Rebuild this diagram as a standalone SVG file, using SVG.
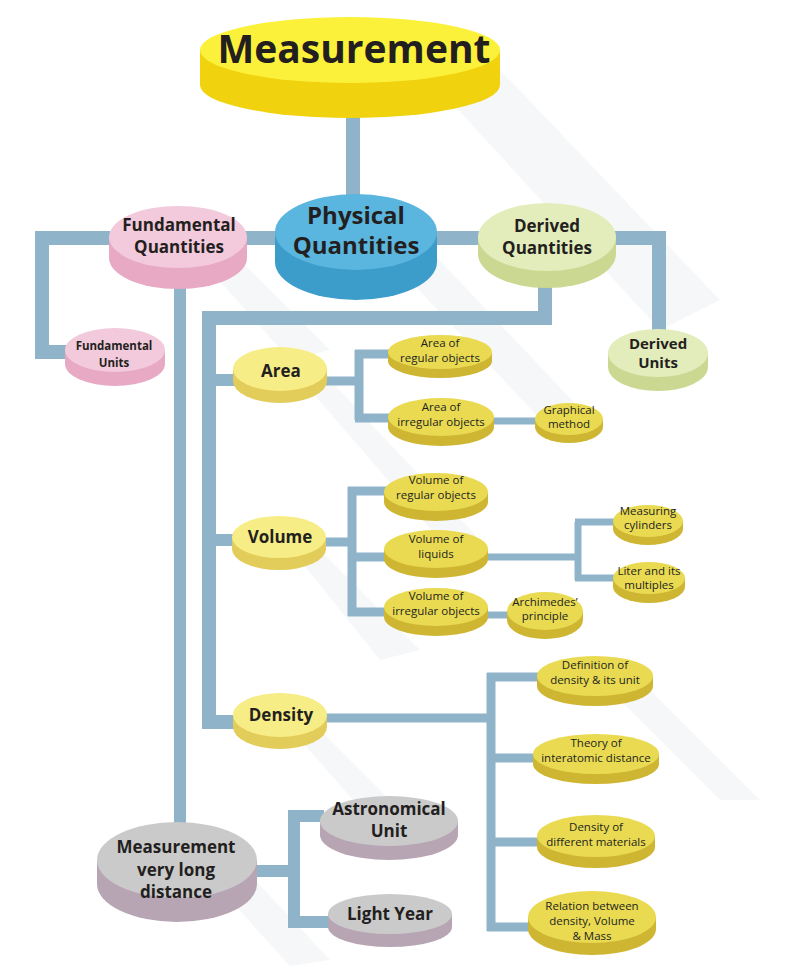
<svg xmlns="http://www.w3.org/2000/svg" width="804" height="966" viewBox="0 0 804 966">
<style>
.c{fill:none;stroke:#8fb4c9;stroke-linecap:butt;stroke-linejoin:miter}
.w14{stroke-width:14}.w12{stroke-width:12}.w9{stroke-width:9}.w7{stroke-width:7}
.sh{fill:#eef1f3;opacity:0.55}
text{font-family:"Open Sans","Liberation Sans",sans-serif;fill:#231f20;text-anchor:middle}
.b{font-weight:700}
.n{font-weight:400;font-size:11.5px}
.ytop{fill:#fbf13a}.yside{fill:#f0d30e}
.btop{fill:#5ab6df}.bside{fill:#3c9dcb}
.ptop{fill:#f2cadb}.pside{fill:#e7a9c4}
.gtop{fill:#e3ecbb}.gside{fill:#cbd891}
.ltop{fill:#f7ed86}.lside{fill:#e2cc5a}
.mtop{fill:#e9da52}.mside{fill:#cfb632}
.stop{fill:#cacaca}.sside{fill:#b8a5b3}
</style>
<rect width="804" height="966" fill="#ffffff"/>
<g id="shadows">
<polygon class="sh" points="440,90 500,70 720,300 660,330"/>
<polygon class="sh" points="400,270 430,250 600,430 560,440"/>
<polygon class="sh" points="210,270 240,260 330,350 290,360"/>
<polygon class="sh" points="310,390 330,380 480,540 440,540"/>
<polygon class="sh" points="300,560 320,550 420,650 380,660"/>
<polygon class="sh" points="300,740 320,730 420,830 380,830"/>
<polygon class="sh" points="230,900 255,880 330,960 290,966"/>
<polygon class="sh" points="620,700 650,690 760,800 720,800"/>
</g>
<g id="connectors">
<path class="c w14" d="M353,115 V200"/>
<path class="c w14" d="M42,238 H110 M42,231 V352 H70"/>
<path class="c w14" d="M245,238 H280 M434,238 H480 M612,238 H659 V330"/>
<path class="c w14" d="M545,285 V318 H209 V722 H240"/>
<path class="c w12" d="M209,380 H240 M209,540 H240"/>
<path class="c w12" d="M180,288 V830"/>
<path class="c w9" d="M326,381 H359 M359,350 V420 M355,354 H392 M355,418 H392"/>
<path class="c w7" d="M493,421 H540"/>
<path class="c w9" d="M322,542 H352 M352,487 V616 M348,491 H388 M348,557 H388 M348,612 H388"/>
<path class="c w7" d="M483,557 H578 M578,522 V580 M575,522 H616 M575,578 H616"/>
<path class="c w7" d="M483,615 H510"/>
<path class="c w9" d="M326,718 H491 M491,673 V931 M487,677 H540 M487,758 H536 M487,842 H540 M487,927 H530"/>
<path class="c w12" d="M256,871 H294 M294,812 V928 M288,816 H324 M288,922 H332"/>
</g>
<g id="n-measurement">
<path class="yside" d="M200,50 V85 A150,33 0 0 0 500,85 V50 Z"/>
<ellipse class="ytop" cx="350" cy="50" rx="150" ry="33"/>
<text class="b" x="354" y="63" font-size="39">Measurement</text>
</g>
<g id="n-physical">
<path class="bside" d="M275,232 V262 A81,38 0 0 0 437,262 V232 Z"/>
<ellipse class="btop" cx="356" cy="232" rx="81" ry="38"/>
<text class="b" x="356" y="224" font-size="24">Physical</text>
<text class="b" x="356" y="254" font-size="24">Quantities</text>
</g>
<g id="n-fundamental-q">
<path class="pside" d="M109,237 V258 A69,31 0 0 0 247,258 V237 Z"/>
<ellipse class="ptop" cx="178" cy="237" rx="69" ry="31"/>
<text class="b" x="179" y="231" font-size="17">Fundamental</text>
<text class="b" x="179" y="253" font-size="17">Quantities</text>
</g>
<g id="n-derived-q">
<path class="gside" d="M478,237 V254 A69,34 0 0 0 616,254 V237 Z"/>
<ellipse class="gtop" cx="547" cy="237" rx="69" ry="34"/>
<text class="b" x="547" y="232" font-size="17">Derived</text>
<text class="b" x="547" y="254" font-size="17">Quantities</text>
</g>
<g id="n-fundamental-u">
<path class="pside" d="M65,350 V364 A50,22 0 0 0 165,364 V350 Z"/>
<ellipse class="ptop" cx="115" cy="350" rx="50" ry="22"/>
<text class="b" x="114" y="350" font-size="11.5">Fundamental</text>
<text class="b" x="114" y="367" font-size="11.5">Units</text>
</g>
<g id="n-derived-u">
<path class="gside" d="M608,353 V367 A50,24 0 0 0 708,367 V353 Z"/>
<ellipse class="gtop" cx="658" cy="353" rx="50" ry="24"/>
<text class="b" x="658" y="349" font-size="15">Derived</text>
<text class="b" x="658" y="368" font-size="15">Units</text>
</g>
<g id="n-area">
<path class="lside" d="M233,369 V381 A47,22 0 0 0 327,381 V369 Z"/>
<ellipse class="ltop" cx="280" cy="369" rx="47" ry="22"/>
<text class="b" x="281" y="377" font-size="17">Area</text>
</g>
<g id="n-area-reg">
<path class="mside" d="M388,352 V361 A52,17 0 0 0 492,361 V352 Z"/>
<ellipse class="mtop" cx="440" cy="352" rx="52" ry="17"/>
<text class="n" x="440" y="347">Area of</text>
<text class="n" x="440" y="362">regular objects</text>
</g>
<g id="n-area-irr">
<path class="mside" d="M388,417 V427 A53,19 0 0 0 494,427 V417 Z"/>
<ellipse class="mtop" cx="441" cy="417" rx="53" ry="19"/>
<text class="n" x="441" y="411">Area of</text>
<text class="n" x="441" y="426">irregular objects</text>
</g>
<g id="n-graphical">
<path class="mside" d="M535,419 V427 A34,16 0 0 0 603,427 V419 Z"/>
<ellipse class="mtop" cx="569" cy="419" rx="34" ry="16"/>
<text class="n" x="569" y="414" font-size="10.5">Graphical</text>
<text class="n" x="569" y="428" font-size="10.5">method</text>
</g>
<g id="n-volume">
<path class="lside" d="M232,537 V549 A47,21 0 0 0 326,549 V537 Z"/>
<ellipse class="ltop" cx="279" cy="537" rx="47" ry="21"/>
<text class="b" x="280" y="543" font-size="17">Volume</text>
</g>
<g id="n-vol-reg">
<path class="mside" d="M384,492 V502 A52,19 0 0 0 488,502 V492 Z"/>
<ellipse class="mtop" cx="436" cy="492" rx="52" ry="19"/>
<text class="n" x="436" y="484">Volume of</text>
<text class="n" x="436" y="499">regular objects</text>
</g>
<g id="n-vol-liq">
<path class="mside" d="M384,549 V559 A52,19 0 0 0 488,559 V549 Z"/>
<ellipse class="mtop" cx="436" cy="549" rx="52" ry="19"/>
<text class="n" x="436" y="543">Volume of</text>
<text class="n" x="436" y="558">liquids</text>
</g>
<g id="n-vol-irr">
<path class="mside" d="M384,607 V617 A52,19 0 0 0 488,617 V607 Z"/>
<ellipse class="mtop" cx="436" cy="607" rx="52" ry="19"/>
<text class="n" x="436" y="600">Volume of</text>
<text class="n" x="436" y="615">irregular objects</text>
</g>
<g id="n-measuring">
<path class="mside" d="M613,521 V529 A35,16 0 0 0 683,529 V521 Z"/>
<ellipse class="mtop" cx="648" cy="521" rx="35" ry="16"/>
<text class="n" x="648" y="515" font-size="10">Measuring</text>
<text class="n" x="648" y="529" font-size="10">cylinders</text>
</g>
<g id="n-liter">
<path class="mside" d="M613,578 V587 A36,16 0 0 0 685,587 V578 Z"/>
<ellipse class="mtop" cx="649" cy="578" rx="36" ry="16"/>
<text class="n" x="649" y="575" font-size="10.5">Liter and its</text>
<text class="n" x="649" y="589" font-size="10.5">multiples</text>
</g>
<g id="n-archimedes">
<path class="mside" d="M507,611 V620 A38,19 0 0 0 583,620 V611 Z"/>
<ellipse class="mtop" cx="545" cy="611" rx="38" ry="19"/>
<text class="n" x="545" y="606" font-size="10.5">Archimedes’</text>
<text class="n" x="545" y="620" font-size="10.5">principle</text>
</g>
<g id="n-density">
<path class="lside" d="M233,715 V727 A47,22 0 0 0 327,727 V715 Z"/>
<ellipse class="ltop" cx="280" cy="715" rx="47" ry="22"/>
<text class="b" x="281" y="721" font-size="17">Density</text>
</g>
<g id="n-def-density">
<path class="mside" d="M537,676 V686 A58,20 0 0 0 653,686 V676 Z"/>
<ellipse class="mtop" cx="595" cy="676" rx="58" ry="20"/>
<text class="n" x="595" y="669">Definition of</text>
<text class="n" x="595" y="684">density &amp; its unit</text>
</g>
<g id="n-theory">
<path class="mside" d="M533,754 V764 A63,20 0 0 0 659,764 V754 Z"/>
<ellipse class="mtop" cx="596" cy="754" rx="63" ry="20"/>
<text class="n" x="596" y="747">Theory of</text>
<text class="n" x="596" y="762">interatomic distance</text>
</g>
<g id="n-dens-mat">
<path class="mside" d="M537,836 V847 A59,21 0 0 0 655,847 V836 Z"/>
<ellipse class="mtop" cx="596" cy="836" rx="59" ry="21"/>
<text class="n" x="596" y="831">Density of</text>
<text class="n" x="596" y="846">different materials</text>
</g>
<g id="n-relation">
<path class="mside" d="M528,917 V929 A64,26 0 0 0 656,929 V917 Z"/>
<ellipse class="mtop" cx="592" cy="917" rx="64" ry="26"/>
<text class="n" x="592" y="910">Relation between</text>
<text class="n" x="592" y="925">density, Volume</text>
<text class="n" x="592" y="940">&amp; Mass</text>
</g>
<g id="n-long-distance">
<path class="sside" d="M97,860 V884 A80,38 0 0 0 257,884 V860 Z"/>
<ellipse class="stop" cx="177" cy="860" rx="80" ry="38"/>
<text class="b" x="176" y="853" font-size="17">Measurement</text>
<text class="b" x="176" y="876" font-size="17">very long</text>
<text class="b" x="176" y="898" font-size="17">distance</text>
</g>
<g id="n-astronomical">
<path class="sside" d="M320,821 V835 A69,25 0 0 0 458,835 V821 Z"/>
<ellipse class="stop" cx="389" cy="821" rx="69" ry="25"/>
<text class="b" x="389" y="815" font-size="17">Astronomical</text>
<text class="b" x="389" y="837" font-size="17">Unit</text>
</g>
<g id="n-light-year">
<path class="sside" d="M328,914 V927 A62,20 0 0 0 452,927 V914 Z"/>
<ellipse class="stop" cx="390" cy="914" rx="62" ry="20"/>
<text class="b" x="390" y="920" font-size="17">Light Year</text>
</g>
</svg>
